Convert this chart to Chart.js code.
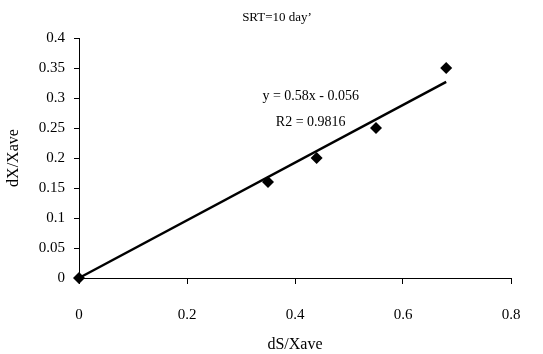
<!DOCTYPE html>
<html><head><meta charset="utf-8">
<script src="https://cdn.jsdelivr.net/npm/chart.js@4/dist/chart.umd.min.js"></script>
<style>html,body{margin:0;padding:0;background:#fff}#wrap{width:543px;height:354px}</style>
</head><body><div id="wrap"><canvas id="c" width="543" height="354"></canvas></div>
<script>
const dsX = [0, 0.35, 0.44, 0.55, 0.68];
const dxY = [0, 0.16, 0.20, 0.25, 0.35];
const trendX = [0, 0.68];
const trendY = [0, 0.327];
const xTicks = [0, 0.2, 0.4, 0.6, 0.8];
const xTickLabels = ["0", "0.2", "0.4", "0.6", "0.8"];
const yTicks = [0, 0.05, 0.1, 0.15, 0.2, 0.25, 0.3, 0.35, 0.4];
const yTickLabels = ["0", "0.05", "0.1", "0.15", "0.2", "0.25", "0.3", "0.35", "0.4"];
const titleText = "SRT=10 day\u02BC";
const eqText = "y = 0.58x - 0.056";
const r2Text = "R2 = 0.9816";

const FONT = "'Liberation Serif', 'DejaVu Serif', serif";
const textPlugin = {
  id: 'texts',
  afterDraw(chart) {
    const ctx = chart.ctx, xs = chart.scales.x, ys = chart.scales.y;
    ctx.save();
    ctx.fillStyle = '#000';
    ctx.textAlign = 'center';
    ctx.textBaseline = 'middle';
    ctx.font = "13px " + FONT;
    ctx.fillText(titleText, 277, 18);
    ctx.font = "14px " + FONT;
    ctx.fillText(eqText, xs.getPixelForValue(0.429), ys.getPixelForValue(0.302));
    ctx.fillText(r2Text, xs.getPixelForValue(0.429), ys.getPixelForValue(0.259));
    ctx.restore();
  }
};

new Chart(document.getElementById('c'), {
  type: 'scatter',
  data: {
    datasets: [
      {
        data: dsX.map((x, i) => ({x, y: dxY[i]})),
        pointStyle: 'rectRot', pointRadius: 6, pointHoverRadius: 6,
        backgroundColor: '#000', borderColor: '#000', borderWidth: 0,
        showLine: false, order: 0, clip: false
      },
      {
        data: trendX.map((x, i) => ({x, y: trendY[i]})),
        showLine: true, pointRadius: 0, borderColor: '#000', borderWidth: 2.5,
        fill: false, order: 1, clip: false
      }
    ]
  },
  options: {
    responsive: false, animation: false,
    layout: {padding: {top: 38, right: 32, bottom: 0, left: 0}},
    plugins: {legend: {display: false}, tooltip: {enabled: false}, title: {display: false}},
    scales: {
      x: {
        type: 'linear', min: 0, max: 0.8,
        afterBuildTicks: s => { s.ticks = xTicks.map(v => ({value: v})); },
        afterFit: s => { s.height = 76; },
        grid: {drawOnChartArea: false, drawTicks: true, tickLength: 6, color: '#000'},
        border: {color: '#000', width: 1},
        ticks: {color: '#000', font: {family: FONT, size: 15}, padding: 22, maxRotation: 0,
          callback: (v, i) => xTickLabels[i]},
        title: {display: true, text: 'dS/Xave', color: '#000', font: {family: FONT, size: 16}, padding: {top: 0, bottom: 0}}
      },
      y: {
        type: 'linear', min: 0, max: 0.4,
        afterBuildTicks: s => { s.ticks = yTicks.map(v => ({value: v})); },
        afterFit: s => { s.width = 79; },
        grid: {drawOnChartArea: false, drawTicks: true, tickLength: 5, color: '#000'},
        border: {color: '#000', width: 1},
        ticks: {color: '#000', font: {family: FONT, size: 15}, padding: 9,
          callback: (v, i) => yTickLabels[i]},
        title: {display: true, text: 'dX/Xave', color: '#000', font: {family: FONT, size: 16}, padding: {top: 4, bottom: 0}}
      }
    }
  },
  plugins: [textPlugin]
});
</script></body></html>
